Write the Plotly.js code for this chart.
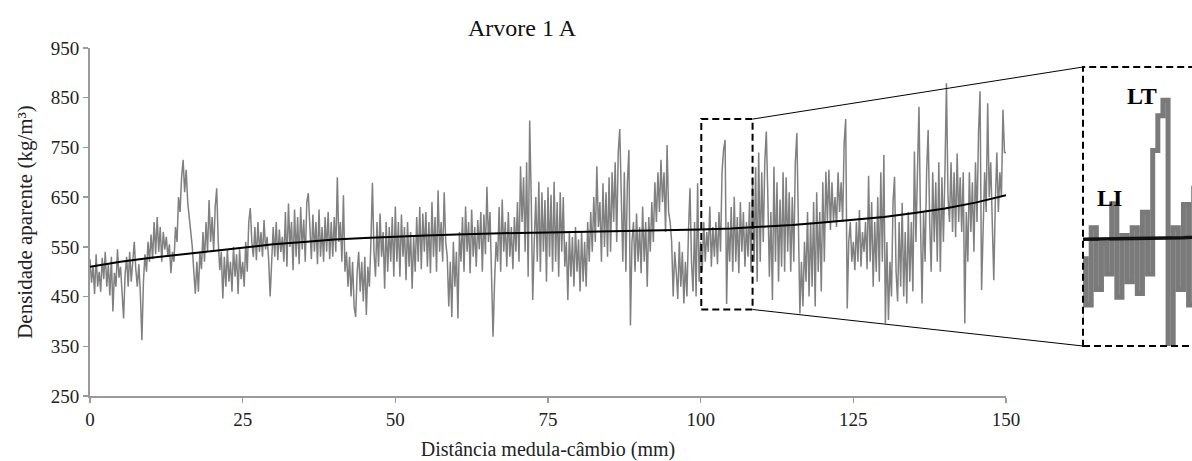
<!DOCTYPE html>
<html><head><meta charset="utf-8">
<script src="https://cdn.plot.ly/plotly-3.0.1.min.js"></script>
<style>html,body{margin:0;padding:0;background:#fff}</style>
</head><body><div id="chart" style="width:1192px;height:461px"></div>
<script>
const chartTitle = 'Arvore 1 A';
const xTitle = 'Distância medula-câmbio (mm)';
const yTitle = 'Densidade aparente (kg/m³)';
const xTickVals = [0, 25, 50, 75, 100, 125, 150];
const yTickVals = [250, 350, 450, 550, 650, 750, 850, 950];
const insetLabels = ['LT', 'LI'];
const sampleStep = 0.25; // mm between readings

const density = [
525,478,512,455,535,470,500,460,528,485,540,470,515,452,530,420,498,470,545,488,
510,462,406,495,530,470,540,480,520,560,505,470,515,455,362,480,535,500,560,520,
575,525,600,535,610,540,590,520,580,545,570,530,555,497,540,520,590,560,650,620,
690,725,660,705,640,610,580,550,500,456,520,460,540,505,580,520,600,540,644,560,
610,540,630,668,560,503,540,446,530,470,545,480,520,460,550,490,535,455,545,485,
520,470,560,500,600,628,560,530,590,523,600,540,580,530,604,545,570,525,450,540,
590,530,600,523,585,540,570,520,620,510,637,550,600,503,625,530,610,515,630,545,
605,520,640,658,580,525,615,540,600,515,625,530,590,520,610,540,620,525,600,530,
610,540,690,560,600,520,654,500,540,470,530,450,520,430,409,500,540,460,520,440,
530,413,510,470,560,679,540,490,600,510,617,530,580,466,600,500,590,520,610,490,
631,520,600,490,615,530,590,483,600,510,580,466,570,500,610,520,630,505,617,540,
620,510,600,497,640,530,610,500,664,540,600,520,660,560,530,430,520,409,560,470,
540,406,580,520,610,500,631,540,600,497,625,530,590,510,604,545,620,500,615,535,
671,560,620,500,369,480,560,520,630,500,645,540,600,510,620,530,590,505,610,540,
640,520,712,600,690,540,720,490,804,650,443,560,650,520,681,500,660,540,644,480,
670,530,655,500,681,520,640,490,660,540,650,510,560,443,580,490,570,470,590,500,
565,460,580,480,560,470,600,520,620,540,650,560,712,590,640,520,678,550,660,530,
690,540,700,600,720,560,740,787,640,520,700,500,680,745,392,560,600,500,617,520,
590,497,631,520,600,470,610,540,640,560,680,600,700,620,725,640,700,580,755,620,
600,560,450,540,500,445,560,470,540,436,520,450,580,668,520,460,600,450,678,480,
560,500,600,520,580,540,631,510,590,530,600,515,620,540,700,745,765,435,600,520,
630,500,651,520,610,497,640,540,620,510,600,530,640,500,690,520,710,480,740,520,
700,560,720,782,650,490,620,443,711,520,680,480,645,510,700,500,690,540,660,500,
650,520,720,779,600,416,520,430,560,480,620,450,600,470,640,430,660,500,620,460,
680,520,701,600,705,584,680,600,650,590,700,620,680,600,760,807,426,560,600,520,
560,503,600,520,624,510,580,540,600,505,693,520,640,470,600,500,650,480,700,520,
735,396,560,403,520,450,640,691,500,440,600,470,638,450,580,436,620,480,600,460,
742,560,700,832,600,436,620,520,700,785,600,500,700,560,680,520,720,500,690,560,
700,879,650,600,720,580,700,570,738,600,690,580,700,396,620,520,700,580,680,540,
720,600,780,863,463,600,700,620,839,650,720,600,483,640,740,620,700,650,826,740,
740
];

const trendDistance = [0,5,10,15,20,25,30,35,40,45,50,55,60,65,70,75,80,85,90,95,100,105,110,115,120,125,130,135,140,145,150];
const trendDensity  = [510,520,528,535,541,548,555,560,565,568,571,573,575,577,578,579,580,581,582,583,585,587,590,594,599,604,610,618,627,639,654];

const distance = density.map((_, i) => i * sampleStep);

// ---- layout geometry (pixels of the 1192x461 page) ----
const W = 1192, H = 461;
const M = {l: 90, r: 0, t: 48, b: 65};
const plotW = W - M.l - M.r, plotH = H - M.t - M.b;
const px2x = px => (px - M.l) / plotW;
const py2y = py => (H - M.b - py) / plotH;
const mainRight = px2x(1006);
const insetX0 = px2x(1083), insetY0 = py2y(346), insetY1 = py2y(67);
const xr = [0, 150], yr = [250, 950];
const box = {x0: 100.1, x1: 108.5, y0: 424, y1: 807};
const d2x = v => (v - xr[0]) / (xr[1] - xr[0]) * mainRight;
const d2y = v => (v - yr[0]) / (yr[1] - yr[0]);
const insetRangeX = [100.1, 100.1 + 109 / 20.5];
const insetRangeY = [447, 808];

const serif = '"Liberation Serif", "Times New Roman", serif';
const txt = '#222';

const traces = [
  {x: distance, y: density, type: 'scatter', mode: 'lines', xaxis: 'x', yaxis: 'y',
   line: {color: '#808080', width: 1.5}, hoverinfo: 'skip'},
  {x: trendDistance, y: trendDensity, type: 'scatter', mode: 'lines', xaxis: 'x', yaxis: 'y',
   line: {color: '#000', width: 2}, hoverinfo: 'skip'},
  {x: distance, y: density, type: 'scatter', mode: 'lines', xaxis: 'x2', yaxis: 'y2',
   line: {color: '#7a7a7a', width: 5, shape: 'hv'}, hoverinfo: 'skip'},
  {x: trendDistance, y: trendDensity, type: 'scatter', mode: 'lines', xaxis: 'x2', yaxis: 'y2',
   line: {color: '#111', width: 3.5}, hoverinfo: 'skip'}
];

function axStyle() {
  return {
    showgrid: false, zeroline: false, showline: true, linecolor: '#9a9a9a', linewidth: 2,
    ticks: 'outside', ticklen: 5, tickwidth: 1.5, tickcolor: '#9a9a9a',
    tickfont: {family: serif, size: 19, color: txt}
  };
}

const layout = {
  width: W, height: H, margin: M, showlegend: false,
  paper_bgcolor: '#fff', plot_bgcolor: 'rgba(0,0,0,0)',
  title: {text: chartTitle, font: {family: serif, size: 24, color: '#111'},
          x: 522 / W, xref: 'container', xanchor: 'center', y: 1 - 28 / H, yref: 'container', yanchor: 'middle'},
  xaxis: Object.assign(axStyle(), {domain: [0, mainRight], range: xr, tickvals: xTickVals,
          ticktext: xTickVals.map(String), anchor: 'y',
          title: {text: xTitle, font: {family: serif, size: 20, color: txt}, standoff: 14}}),
  yaxis: Object.assign(axStyle(), {domain: [0, 1], range: yr, tickvals: yTickVals,
          ticktext: yTickVals.map(String), anchor: 'x',
          title: {text: yTitle, font: {family: serif, size: 21, color: txt}, standoff: 12}}),
  xaxis2: {domain: [insetX0, 1], range: insetRangeX, visible: false, anchor: 'y2', fixedrange: true},
  yaxis2: {domain: [insetY0, insetY1], range: insetRangeY, visible: false, anchor: 'x2', fixedrange: true},
  shapes: [
    {type: 'rect', xref: 'x', yref: 'y', x0: box.x0, x1: box.x1, y0: box.y0, y1: box.y1,
     line: {color: '#000', width: 2, dash: '7px,4px'}, fillcolor: 'rgba(0,0,0,0)'},
    {type: 'rect', xref: 'paper', yref: 'paper', x0: insetX0, x1: 1.05, y0: insetY0, y1: insetY1,
     line: {color: '#000', width: 2, dash: '7px,4px'}, fillcolor: 'rgba(0,0,0,0)'},
    {type: 'line', xref: 'paper', yref: 'paper', x0: d2x(box.x1), y0: d2y(box.y1), x1: insetX0, y1: insetY1,
     line: {color: '#000', width: 1}},
    {type: 'line', xref: 'paper', yref: 'paper', x0: d2x(box.x1), y0: d2y(box.y0), x1: insetX0, y1: insetY0,
     line: {color: '#000', width: 1}}
  ],
  annotations: [
    {text: '<b>' + insetLabels[0] + '</b>', xref: 'paper', yref: 'paper', x: px2x(1142), y: py2y(96),
     showarrow: false, font: {family: serif, size: 24, color: '#000'}, xanchor: 'center', yanchor: 'middle'},
    {text: '<b>' + insetLabels[1] + '</b>', xref: 'paper', yref: 'paper', x: px2x(1109), y: py2y(198),
     showarrow: false, font: {family: serif, size: 24, color: '#000'}, xanchor: 'center', yanchor: 'middle'}
  ]
};

Plotly.newPlot('chart', traces, layout, {staticPlot: true, displayModeBar: false});
</script></body></html>
